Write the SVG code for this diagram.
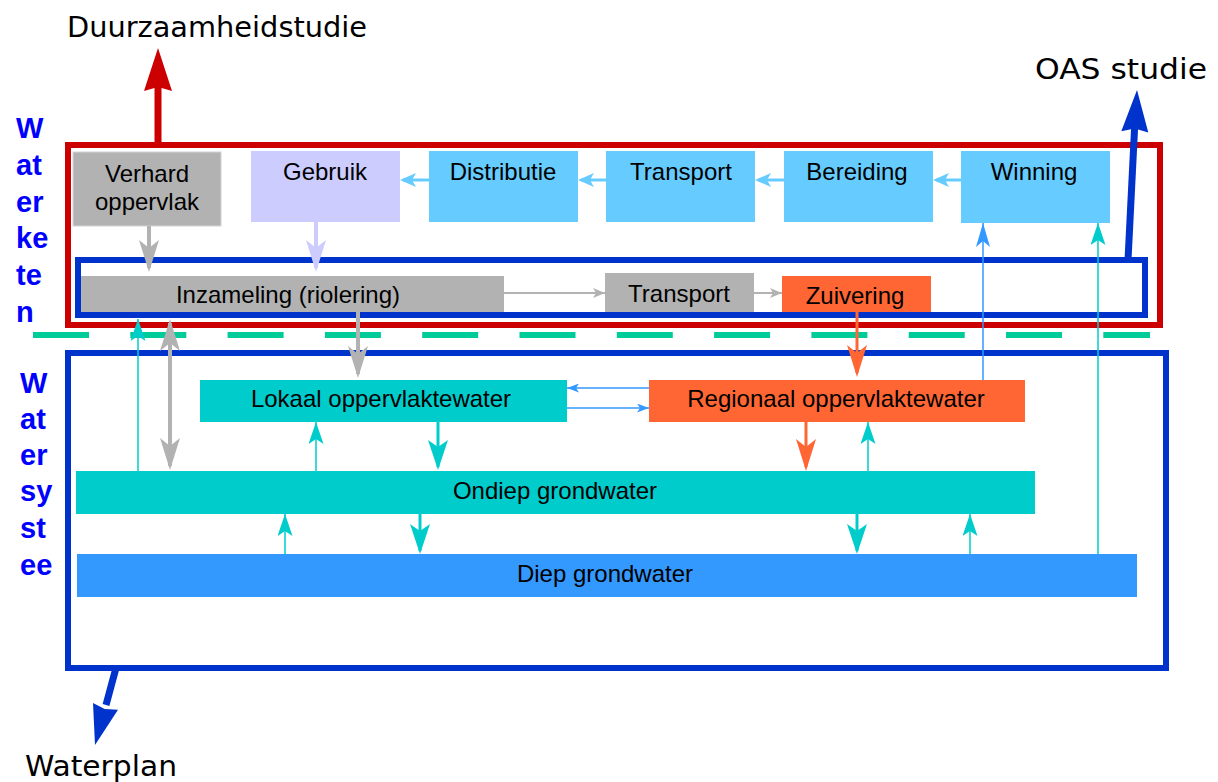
<svg xmlns="http://www.w3.org/2000/svg" width="1218" height="782" viewBox="0 0 1218 782">
<style>
.t{font-family:"Liberation Sans",Arial,sans-serif;font-size:24px;fill:#000;text-anchor:middle}
.lbl{font-family:"Liberation Sans",Arial,sans-serif;font-weight:bold;font-size:29px;fill:#0000ff}
.ttl{font-family:"DejaVu Sans",sans-serif;font-size:28px;fill:#000}
.frame{fill:none;stroke-width:6}
.c{fill:none}
.gray{stroke:#b2b2b2;stroke-width:4}
.grayS{stroke:#b2b2b2;stroke-width:2}
.lav{stroke:#ccccff;stroke-width:4}
.sky{stroke:#66ccff;stroke-width:3}
.org{stroke:#ff6633;stroke-width:3}
.teal{stroke:#00cccc;stroke-width:3}
.tealS{stroke:#00cccc;stroke-width:1.5}
.blueS{stroke:#3399ff;stroke-width:1.5}
</style>
<defs>
<marker id="hGray" viewBox="0 0 32 20" refX="28" refY="10" markerWidth="32" markerHeight="20" markerUnits="userSpaceOnUse" orient="auto-start-reverse"><path d="M0,0 L32,10 L0,20 L8,10 z" fill="#b2b2b2"/></marker>
<marker id="hLav" viewBox="0 0 32 20" refX="28" refY="10" markerWidth="32" markerHeight="20" markerUnits="userSpaceOnUse" orient="auto"><path d="M0,0 L32,10 L0,20 L8,10 z" fill="#ccccff"/></marker>
<marker id="hSky" viewBox="0 0 16 14" refX="13" refY="7" markerWidth="16" markerHeight="14" markerUnits="userSpaceOnUse" orient="auto"><path d="M0,0 L16,7 L0,14 L4,7 z" fill="#66ccff"/></marker>
<marker id="hGrayS" viewBox="0 0 12 10" refX="12" refY="5" markerWidth="12" markerHeight="10" markerUnits="userSpaceOnUse" orient="auto"><path d="M0,0 L12,5 L0,10 L3,5 z" fill="#b2b2b2"/></marker>
<marker id="hOrg" viewBox="0 0 32 20" refX="28" refY="10" markerWidth="32" markerHeight="20" markerUnits="userSpaceOnUse" orient="auto"><path d="M0,0 L32,10 L0,20 L8,10 z" fill="#ff6633"/></marker>
<marker id="hTeal" viewBox="0 0 30 20" refX="27" refY="10" markerWidth="30" markerHeight="20" markerUnits="userSpaceOnUse" orient="auto"><path d="M0,0 L30,10 L0,20 L7,10 z" fill="#00cccc"/></marker>
<marker id="hTealS" viewBox="0 0 22 15" refX="22" refY="7.5" markerWidth="22" markerHeight="15" markerUnits="userSpaceOnUse" orient="auto"><path d="M0,0 L22,7.5 L0,15 L5,7.5 z" fill="#00cccc"/></marker>
<marker id="hBlueS" viewBox="0 0 12 9" refX="12" refY="4.5" markerWidth="12" markerHeight="9" markerUnits="userSpaceOnUse" orient="auto"><path d="M0,0 L12,4.5 L0,9 L3,4.5 z" fill="#3399ff"/></marker>
<marker id="hBlue" viewBox="0 0 24 14" refX="24" refY="7" markerWidth="24" markerHeight="14" markerUnits="userSpaceOnUse" orient="auto"><path d="M0,0 L24,7 L0,14 L6,7 z" fill="#3399ff"/></marker>
</defs>
<rect width="1218" height="782" fill="#fff"/>

<g id="titles">
<text class="ttl" x="67" y="37" textLength="300" lengthAdjust="spacingAndGlyphs">Duurzaamheidstudie</text>
<text class="ttl" x="1035" y="79" textLength="172" lengthAdjust="spacingAndGlyphs">OAS studie</text>
<text class="ttl" x="25" y="776" textLength="152" lengthAdjust="spacingAndGlyphs">Waterplan</text>
</g>

<g id="label-waterketen">
<text class="lbl" x="16" y="138">W</text>
<text class="lbl" x="16" y="175">at</text>
<text class="lbl" x="16" y="212">er</text>
<text class="lbl" x="16" y="248">ke</text>
<text class="lbl" x="16" y="285">te</text>
<text class="lbl" x="16" y="322">n</text>
</g>
<g id="label-watersysteem">
<text class="lbl" x="20" y="393">W</text>
<text class="lbl" x="20" y="429">at</text>
<text class="lbl" x="20" y="465">er</text>
<text class="lbl" x="20" y="501">sy</text>
<text class="lbl" x="20" y="538">st</text>
<text class="lbl" x="20" y="575">ee</text>
</g>

<g id="frame-waterketen"><rect class="frame" x="68" y="145" width="1092" height="180" stroke="#cc0000"/></g>
<g id="frame-riolering"><rect class="frame" x="78" y="260" width="1067" height="55" stroke="#0033cc"/></g>
<g id="frame-watersysteem"><rect class="frame" x="68" y="353" width="1098" height="315" stroke="#0033cc"/></g>

<g id="divider"><line x1="33" y1="335" x2="1150" y2="335" stroke="#00cc99" stroke-width="6" stroke-dasharray="56 41.3"/></g>

<g id="verhard"><rect x="73" y="152" width="148" height="74" fill="#b2b2b2" stroke="#d4d4d4" stroke-width="1"/><text class="t" x="147" y="182">Verhard</text><text class="t" x="147" y="210">oppervlak</text></g>
<g id="gebruik"><rect x="251" y="151" width="149" height="71" fill="#ccccff"/><text class="t" x="325" y="180">Gebruik</text></g>
<g id="distributie"><rect x="429" y="151" width="149" height="71" fill="#66ccff"/><text class="t" x="503" y="180">Distributie</text></g>
<g id="transport-drink"><rect x="606" y="151" width="149" height="71" fill="#66ccff"/><text class="t" x="681" y="180">Transport</text></g>
<g id="bereiding"><rect x="784" y="151" width="149" height="71" fill="#66ccff"/><text class="t" x="857" y="180">Bereiding</text></g>
<g id="winning"><rect x="961" y="151" width="149" height="72" fill="#66ccff"/><text class="t" x="1034" y="180">Winning</text></g>

<g id="inzameling"><rect x="81" y="276" width="423" height="36" fill="#b2b2b2"/><text class="t" x="288" y="303">Inzameling (riolering)</text></g>
<g id="transport-afval"><rect x="605" y="273" width="149" height="39" fill="#b2b2b2"/><text class="t" x="679" y="302">Transport</text></g>
<g id="zuivering"><rect x="782" y="276" width="149" height="36" fill="#ff6633"/><text class="t" x="855" y="304">Zuivering</text></g>

<g id="lokaal"><rect x="200" y="380" width="367" height="42" fill="#00cccc"/><text class="t" x="381" y="407">Lokaal oppervlaktewater</text></g>
<g id="regionaal"><rect x="649" y="380" width="376" height="42" fill="#ff6633"/><text class="t" x="836" y="407">Regionaal oppervlaktewater</text></g>
<g id="ondiep"><rect x="76" y="471" width="959" height="43" fill="#00cccc"/><text class="t" x="555" y="499">Ondiep grondwater</text></g>
<g id="diep"><rect x="77" y="554" width="1060" height="43" fill="#3399ff"/><text class="t" x="605" y="582">Diep grondwater</text></g>

<g id="connectors">
<path class="c sky" d="M961,180 L936,180" marker-end="url(#hSky)"/>
<path class="c sky" d="M784,180 L758,180" marker-end="url(#hSky)"/>
<path class="c sky" d="M606,180 L581,180" marker-end="url(#hSky)"/>
<path class="c sky" d="M429,180 L403,180" marker-end="url(#hSky)"/>
<path class="c gray" d="M149,226 L149,268" marker-end="url(#hGray)"/>
<path class="c lav" d="M316,222 L316,268" marker-end="url(#hLav)"/>
<path class="c grayS" d="M504,293 L605,293" marker-end="url(#hGrayS)"/>
<path class="c grayS" d="M754,293 L782,293" marker-end="url(#hGrayS)"/>
<path class="c org" d="M857,312 L857,373" marker-end="url(#hOrg)"/>
<path class="c gray" d="M358,312 L358,374" marker-end="url(#hGray)"/>
<path class="c gray" d="M170,323 L170,466" marker-start="url(#hGray)" marker-end="url(#hGray)"/>
<path class="c tealS" d="M138,471 L138,319" marker-end="url(#hTealS)"/>
<path class="c blueS" d="M649,388 L567,388" marker-end="url(#hBlueS)"/>
<path class="c blueS" d="M567,408 L649,408" marker-end="url(#hBlueS)"/>
<path class="c tealS" d="M316,471 L316,422" marker-end="url(#hTealS)"/>
<path class="c teal" d="M438,422 L438,467" marker-end="url(#hTeal)"/>
<path class="c org" d="M806,422 L806,467" marker-end="url(#hOrg)"/>
<path class="c tealS" d="M868,471 L868,422" marker-end="url(#hTealS)"/>
<path class="c teal" d="M420,514 L420,551" marker-end="url(#hTeal)"/>
<path class="c tealS" d="M285,554 L285,514" marker-end="url(#hTealS)"/>
<path class="c teal" d="M857,514 L857,551" marker-end="url(#hTeal)"/>
<path class="c tealS" d="M970,554 L970,514" marker-end="url(#hTealS)"/>
<path class="c blueS" d="M983,380 L983,223" marker-end="url(#hBlue)"/>
<path class="c tealS" d="M1098,554 L1098,223" marker-end="url(#hTealS)"/>
<path d="M158,145 L158,86" stroke="#cc0000" stroke-width="7" fill="none"/>
<path d="M158,48 L172,91 L158,87 L144,91 z" fill="#cc0000"/>
<path d="M1128,260 L1134.6,128" stroke="#0033cc" stroke-width="7" fill="none"/>
<path d="M1137,90 L1148.3,132.6 L1134.6,128.5 L1121.3,131.2 z" fill="#0033cc"/>
<path d="M116,668 L106,705" stroke="#0033cc" stroke-width="7" fill="none"/>
<path d="M95,745 L118,709.8 L104.7,709 L93,703 z" fill="#0033cc"/>
</g>
</svg>
